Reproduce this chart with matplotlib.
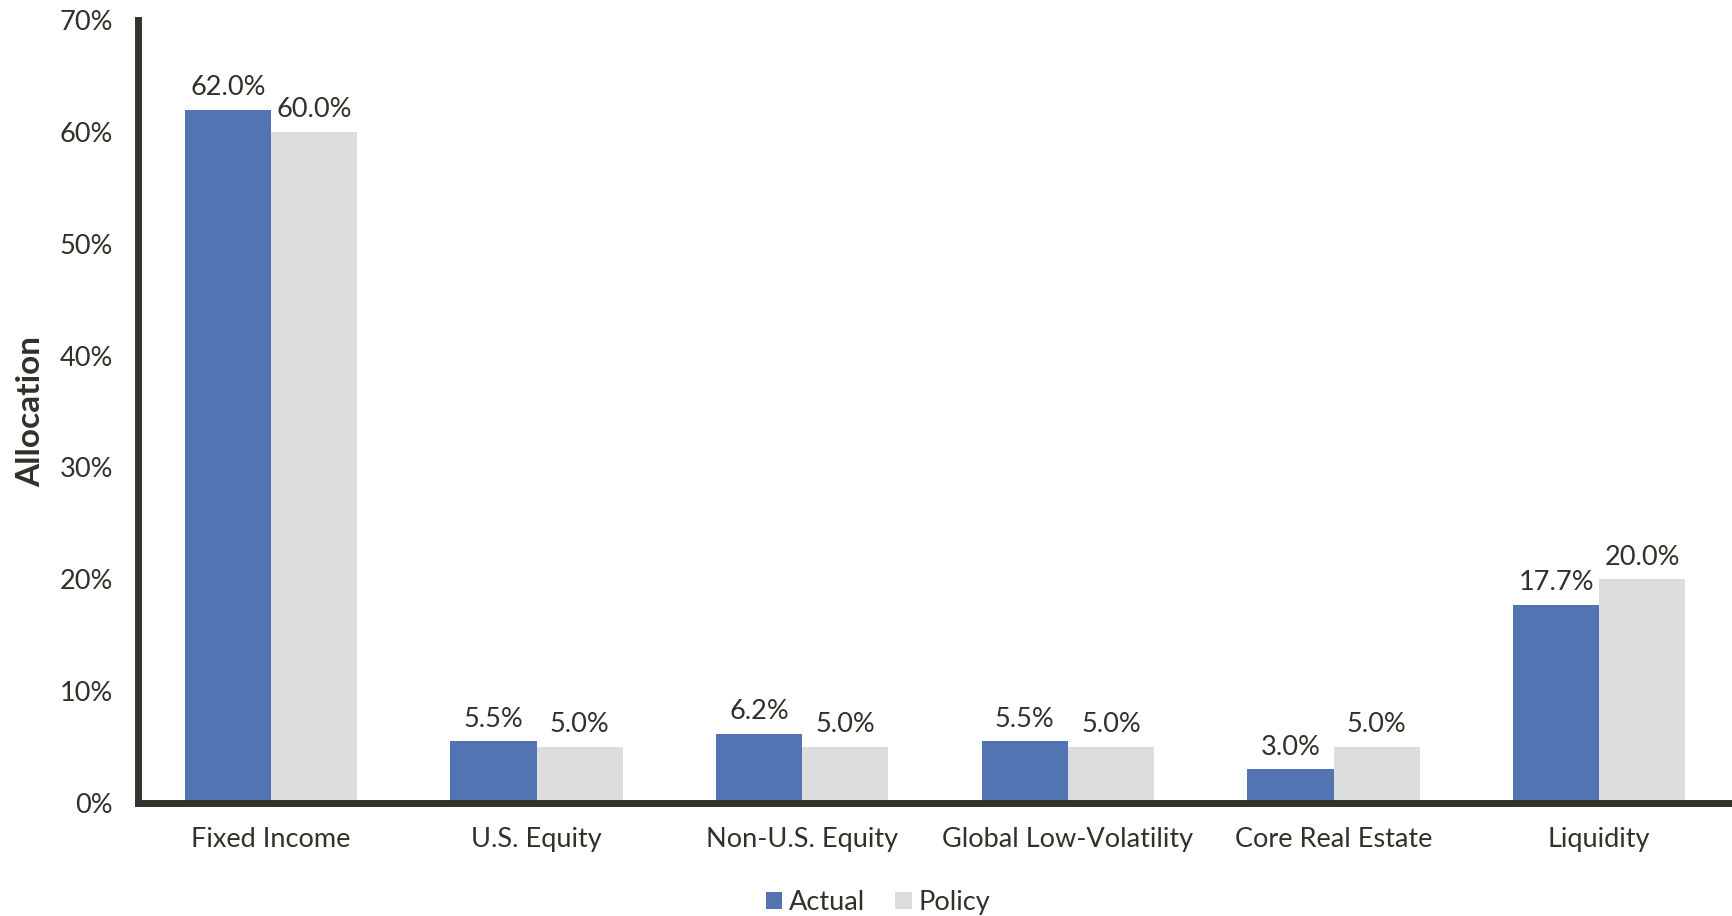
import matplotlib.pyplot as plt
import numpy as np

categories = ['Fixed Income', 'U.S. Equity', 'Non-U.S. Equity',
              'Global Low-Volatility', 'Core Real Estate', 'Liquidity']
actual = [62.0, 5.5, 6.2, 5.5, 3.0, 17.7]
policy = [60.0, 5.0, 5.0, 5.0, 5.0, 20.0]
yticks = [0, 10, 20, 30, 40, 50, 60, 70]

plt.rcParams['font.family'] = ['Lato', 'DejaVu Sans']
text_col = '#333029'
blue = '#5274B3'
grey = '#DCDDDF'
fs = 19.5

fig = plt.figure(figsize=(17.32, 9.16), dpi=100)
ax = fig.add_axes([0.0797, 0.1234, 0.9203, 0.8546])

x = np.arange(len(categories))
w = 0.324
b1 = ax.bar(x - w / 2, actual, w, color=blue, label='Actual')
b2 = ax.bar(x + w / 2, policy, w, color=grey, label='Policy')

for bars, vals in ((b1, actual), (b2, policy)):
    for r, v in zip(bars, vals):
        ax.annotate(f'{v:.1f}%', (r.get_x() + r.get_width() / 2, v),
                    xytext=(0, 7), textcoords='offset points',
                    ha='center', va='bottom', fontsize=fs, color=text_col)

ax.set_xlim(-0.5, 5.5)
ax.set_ylim(0, 70)
ax.set_yticks(yticks)
ax.set_yticklabels([f'{t}%' for t in yticks], fontsize=fs, color=text_col)
ax.set_xticks(x)
ax.set_xticklabels(categories, fontsize=fs, color=text_col)
ax.tick_params(axis='both', length=0)
ax.tick_params(axis='y', pad=18)
ax.tick_params(axis='x', pad=17)

for s in ('top', 'right'):
    ax.spines[s].set_visible(False)
for s in ('left', 'bottom'):
    ax.spines[s].set_linewidth(5)
    ax.spines[s].set_color('#35312B')

ax.set_ylabel('Allocation', fontsize=24, fontweight='bold', color=text_col, labelpad=10)

fig.legend(handles=[b1, b2], loc='center', bbox_to_anchor=(0.507, 0.015),
           ncol=2, frameon=False, fontsize=fs, handlelength=0.6, handleheight=0.6,
           handletextpad=0.25, columnspacing=1.1, labelcolor=text_col)

fig.savefig('out.png', dpi=100)
